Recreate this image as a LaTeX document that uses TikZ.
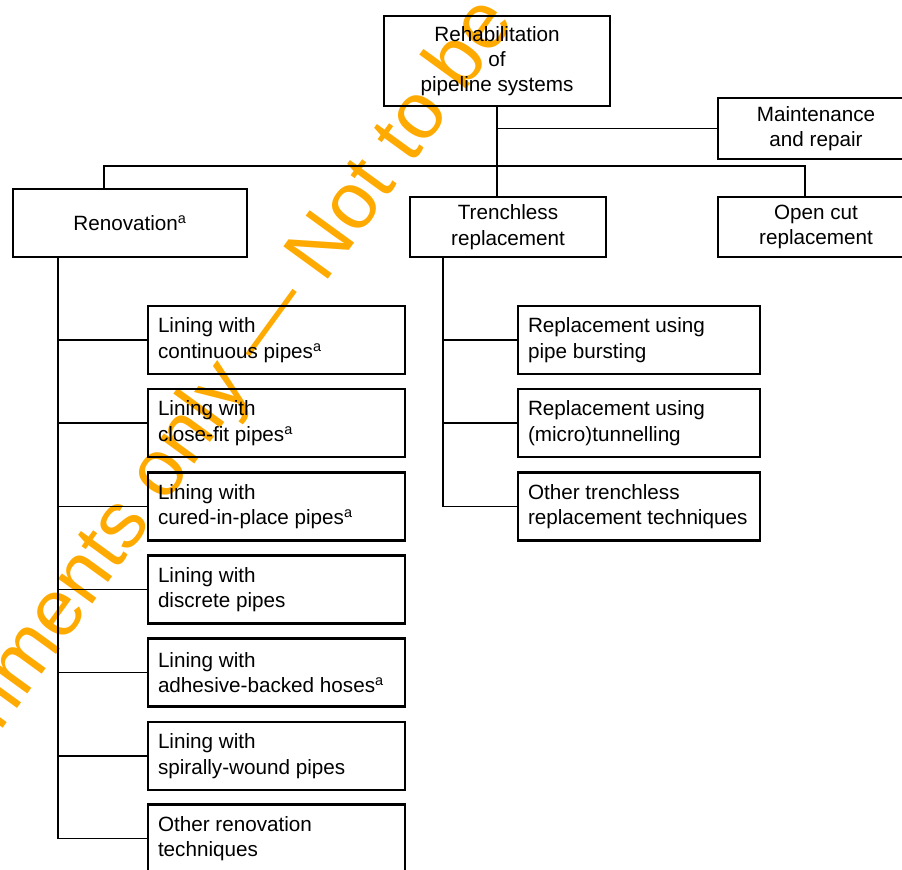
\documentclass[tikz,border=0pt]{standalone}
\usepackage{fontspec}
\setmainfont{Liberation Sans}
\definecolor{markorange}{RGB}{255,170,0}
\tikzset{
  box/.style={draw, rectangle, line width=1.8pt, inner sep=0pt, align=center, minimum height=51pt},
  renobox/.style={box, align=flush left, inner xsep=7.5pt, text width=177.75pt},
  trenchbox/.style={box, align=flush left, inner xsep=7.5pt, text width=166.5pt},
  link/.style={line width=0.9pt},
  watermark/.style={text=markorange, rotate=54, anchor=base west, inner sep=0pt, font=\fontsize{60pt}{64pt}\selectfont}
}
\begin{document}
\begin{tikzpicture}[x=0.75pt, y=-0.75pt, font=\fontsize{15.5pt}{19pt}\selectfont]
\clip (0,0) rectangle (902,869);
\node[watermark] (Mark) at (-75,835) {Comments only — Not to be};
% top level
\node[box, minimum width=169.5pt, minimum height=67.5pt] (Root) at (497,61) {Rehabilitation\\of\\pipeline systems};
\node[box, minimum width=147pt, minimum height=45.75pt] (Maint) at (816,128.5) {Maintenance\\and repair};
\node[box, minimum width=175.5pt] (Reno) at (130,223) {Renovation\textsuperscript{a}};
\node[box, minimum width=147pt, minimum height=45pt] (Trench) at (508,227) {Trenchless\\replacement};
\node[box, minimum width=147pt, minimum height=45pt] (Open) at (816,227) {Open cut\\replacement};
% renovation techniques
\node[renobox] (Reno_1) at (276.5,340) {Lining with\\continuous pipes\textsuperscript{a}};
\node[renobox] (Reno_2) at (276.5,423) {Lining with\\close-fit pipes\textsuperscript{a}};
\node[renobox] (Reno_3) at (276.5,506.5) {Lining with\\cured-in-place pipes\textsuperscript{a}};
\node[renobox] (Reno_4) at (276.5,589.5) {Lining with\\discrete pipes};
\node[renobox] (Reno_5) at (276.5,672.5) {Lining with\\adhesive-backed hoses\textsuperscript{a}};
\node[renobox] (Reno_6) at (276.5,756) {Lining with\\spirally-wound pipes};
\node[renobox] (Reno_7) at (276.5,838.5) {Other renovation\\techniques};
% trenchless techniques
\node[trenchbox] (Trench_1) at (639,340) {Replacement using\\pipe bursting};
\node[trenchbox] (Trench_2) at (639,423) {Replacement using\\(micro)tunnelling};
\node[trenchbox] (Trench_3) at (639,506.5) {Other trenchless\\replacement techniques};
% connectors
\coordinate (Bus_W) at (104,166);
\coordinate (Bus_E) at (805,166);
\coordinate (Trunk_R) at (58,257);
\coordinate (Trunk_T) at (443,257);
\draw[link] (Root.south) -- (Root.south |- Trench.north);
\draw[link] (Root.south |- Maint.west) -- (Maint.west);
\draw[link] (Bus_W |- Reno.north) -- (Bus_W) -- (Bus_E) -- (Bus_E |- Open.north);
\draw[link] (Trunk_R) -- (Trunk_R |- Reno_7.west);
\draw[link] (Trunk_R |- Reno_1.west) -- (Reno_1.west);
\draw[link] (Trunk_R |- Reno_2.west) -- (Reno_2.west);
\draw[link] (Trunk_R |- Reno_3.west) -- (Reno_3.west);
\draw[link] (Trunk_R |- Reno_4.west) -- (Reno_4.west);
\draw[link] (Trunk_R |- Reno_5.west) -- (Reno_5.west);
\draw[link] (Trunk_R |- Reno_6.west) -- (Reno_6.west);
\draw[link] (Trunk_R |- Reno_7.west) -- (Reno_7.west);
\draw[link] (Trunk_T) -- (Trunk_T |- Trench_3.west);
\draw[link] (Trunk_T |- Trench_1.west) -- (Trench_1.west);
\draw[link] (Trunk_T |- Trench_2.west) -- (Trench_2.west);
\draw[link] (Trunk_T |- Trench_3.west) -- (Trench_3.west);
\end{tikzpicture}
\end{document}
